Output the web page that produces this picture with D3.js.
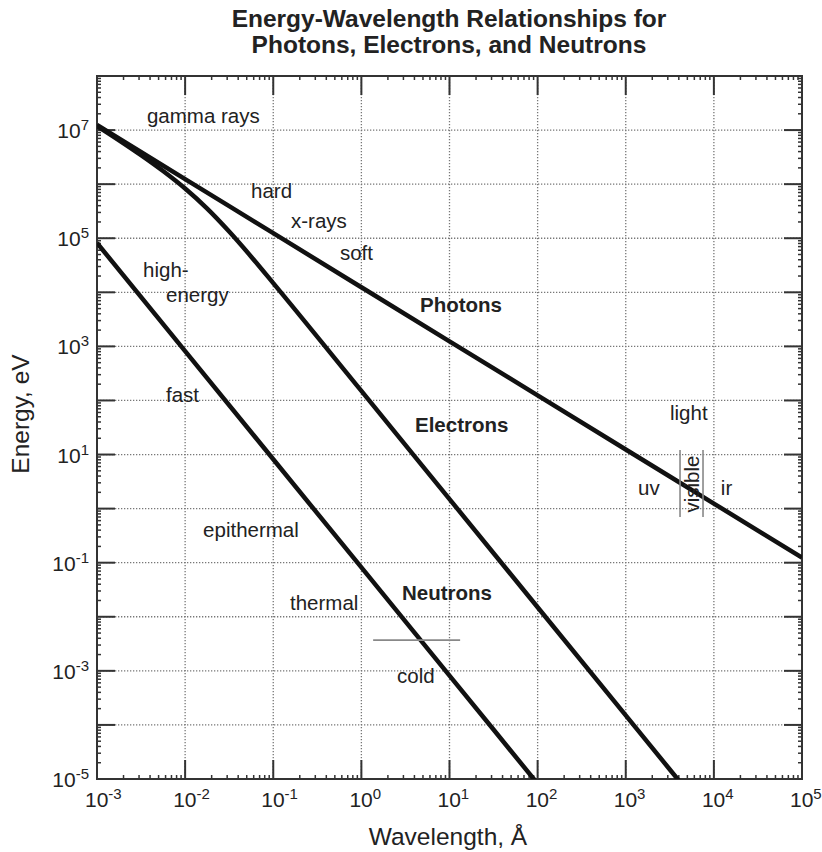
<!DOCTYPE html>
<html>
<head>
<meta charset="utf-8">
<script src="https://cdn.jsdelivr.net/npm/d3@7"></script>
<style>
  body { margin: 0; background: #fff; }
  svg text { font-family: "Liberation Sans", Arial, Helvetica, sans-serif; fill: #222; }
</style>
</head>
<body>
<div id="chart"></div>
<script>
// wavelength (Å) / energy (eV) pairs
const photonWl = [1e-3, 1e-2, 1e-1, 1, 10, 100, 1e3, 1e4, 1e5];
const photonE  = [1.24e7, 1.24e6, 1.24e5, 1.24e4, 1240, 124, 12.4, 1.24, 0.124];

const electronWl = [1e-3, 1.78e-3, 3.16e-3, 5.62e-3, 1e-2, 1.78e-2, 3.16e-2, 5.62e-2, 1e-1, 1, 10, 100, 1e3, 1e4];
const electronE  = [1.19e7, 6.48e6, 3.44e6, 1.75e6, 8.3e5, 3.53e5, 1.33e5, 4.56e4, 1.48e4, 150, 1.5, 0.015, 1.5e-4, 1.5e-6];

const neutronWl = [1e-3, 1e-2, 1e-1, 1, 10, 100];
const neutronE  = [8.18e4, 818, 8.18, 0.0818, 8.18e-4, 8.18e-6];

const xDecades = [-3, -2, -1, 0, 1, 2, 3, 4, 5];
const yDecades = [-5, -4, -3, -2, -1, 0, 1, 2, 3, 4, 5, 6, 7, 8];
const yLabelled = [-5, -3, -1, 1, 3, 5, 7];

// text annotations: [text, wavelength, energy (baseline), weight]
const notes = [
  ['gamma rays', 3.69e-3, 1.35e7, 'normal'],
  ['hard', 0.056, 5.5e5, 'normal'],
  ['x-rays', 0.159, 1.55e5, 'normal'],
  ['soft', 0.571, 3.96e4, 'normal'],
  ['high-', 3.33e-3, 1.92e4, 'normal'],
  ['energy', 6.07e-3, 6.6e3, 'normal'],
  ['Photons', 4.63, 4.3e3, 'bold'],
  ['fast', 6.07e-3, 93.7, 'normal'],
  ['Electrons', 4.06, 26, 'bold'],
  ['epithermal', 0.016, 0.3, 'normal'],
  ['thermal', 0.155, 0.0133, 'normal'],
  ['Neutrons', 2.89, 0.0204, 'bold'],
  ['cold', 2.54, 5.96e-4, 'normal'],
  ['light', 3180, 43.5, 'normal'],
  ['uv', 1380, 1.79, 'normal'],
  ['ir', 1.2e4, 1.79, 'normal']
];

const W = 822, H = 852;
const x = d3.scaleLog().domain([1e-3, 1e5]).range([97, 802]);
const y = d3.scaleLog().domain([1e-5, 1e8]).range([779, 76]);

const svg = d3.select('#chart').append('svg').attr('width', W).attr('height', H);

svg.append('defs').append('clipPath').attr('id', 'plot')
  .append('rect').attr('x', 97).attr('y', 76).attr('width', 705).attr('height', 703);

// grid
const grid = svg.append('g').attr('stroke', '#777').attr('stroke-width', 1.3).attr('stroke-dasharray', '1.3,1.7');
xDecades.slice(1, -1).forEach(p => {
  grid.append('line').attr('x1', x(10 ** p)).attr('x2', x(10 ** p)).attr('y1', 76).attr('y2', 779);
});
yDecades.slice(1, -1).forEach(p => {
  grid.append('line').attr('y1', y(10 ** p)).attr('y2', y(10 ** p)).attr('x1', 97).attr('x2', 802);
});

// ticks
const ticks = svg.append('g').attr('stroke', '#333');
const isPow = v => Math.abs(Math.log10(v) - Math.round(Math.log10(v))) < 1e-6;
x.ticks(50).forEach(v => {
  const len = isPow(v) ? 19 : 4, w = isPow(v) ? 2 : 1.5;
  ticks.append('line').attr('x1', x(v)).attr('x2', x(v)).attr('y1', 779).attr('y2', 779 - len).attr('stroke-width', w);
  ticks.append('line').attr('x1', x(v)).attr('x2', x(v)).attr('y1', 76).attr('y2', 76 + len).attr('stroke-width', w);
});
y.ticks(50).forEach(v => {
  const len = isPow(v) ? 18 : 4, w = isPow(v) ? 2 : 1.5;
  ticks.append('line').attr('y1', y(v)).attr('y2', y(v)).attr('x1', 97).attr('x2', 97 + len).attr('stroke-width', w);
  ticks.append('line').attr('y1', y(v)).attr('y2', y(v)).attr('x1', 802).attr('x2', 802 - len).attr('stroke-width', w);
});

// frame
svg.append('rect').attr('x', 97).attr('y', 76).attr('width', 705).attr('height', 703)
  .attr('fill', 'none').attr('stroke', '#333').attr('stroke-width', 2);

// tick labels
function powLabel(g, p, px, py, anchor) {
  const t = g.append('text').attr('x', px).attr('y', py).attr('font-size', 21).attr('text-anchor', anchor);
  t.append('tspan').text('10');
  t.append('tspan').attr('dy', -8).attr('font-size', 15).text(p < 0 ? '-' + (-p) : p);
  return t;
}
const xl = svg.append('g');
xDecades.forEach(p => {
  powLabel(xl, p, x(10 ** p) - 12, 807, 'start');
});
const yl = svg.append('g');
yLabelled.forEach(p => {
  powLabel(yl, p, 89, y(10 ** p) + 8, 'end');
});

// curves
const line = d3.line().x(d => x(d[0])).y(d => y(d[1])).curve(d3.curveMonotoneX);
const curves = svg.append('g').attr('clip-path', 'url(#plot)')
  .attr('fill', 'none').attr('stroke', '#111').attr('stroke-width', 4.5).attr('stroke-linejoin', 'round');
[[photonWl, photonE], [electronWl, electronE], [neutronWl, neutronE]].forEach(([wl, e]) => {
  curves.append('path').attr('d', line(wl.map((w, i) => [w, e[i]])));
});

// gray markers: cold/thermal boundary and visible band
const marks = svg.append('g').attr('stroke', '#888').attr('stroke-width', 1.6);
marks.append('line').attr('x1', x(1.36)).attr('x2', x(13.2)).attr('y1', y(3.7e-3)).attr('y2', y(3.7e-3));
[4130, 7530].forEach(w => {
  marks.append('line').attr('x1', x(w)).attr('x2', x(w)).attr('y1', y(12.1)).attr('y2', y(0.7));
});

// annotations
svg.append('g').selectAll('text').data(notes).join('text')
  .attr('x', d => x(d[1])).attr('y', d => y(d[2]))
  .attr('font-size', 20.5).attr('font-weight', d => d[3])
  .text(d => d[0]);
svg.append('text').attr('transform', `translate(${x(6770)},${y(2.85)}) rotate(-90)`)
  .attr('text-anchor', 'middle').attr('font-size', 20.5).text('visible');

// titles
svg.append('text').attr('x', 449).attr('y', 27).attr('text-anchor', 'middle')
  .attr('font-size', 24.5).attr('font-weight', 'bold').text('Energy-Wavelength Relationships for');
svg.append('text').attr('x', 449).attr('y', 53).attr('text-anchor', 'middle')
  .attr('font-size', 24.5).attr('font-weight', 'bold').text('Photons, Electrons, and Neutrons');
svg.append('text').attr('x', 448).attr('y', 845).attr('text-anchor', 'middle')
  .attr('font-size', 24.5).text('Wavelength, Å');
svg.append('text').attr('transform', 'translate(29,414) rotate(-90)').attr('text-anchor', 'middle')
  .attr('font-size', 24.5).text('Energy, eV');
</script>
</body>
</html>
